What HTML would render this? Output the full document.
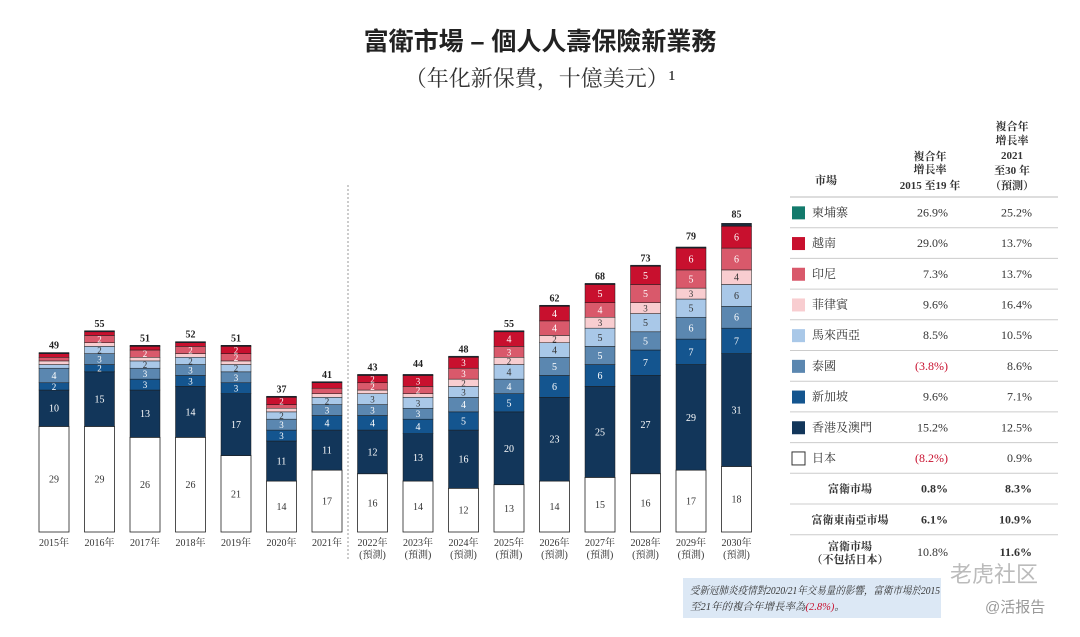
<!DOCTYPE html>
<html><head><meta charset="utf-8"><style>
body{margin:0;background:#fff;width:1080px;height:632px;overflow:hidden;font-family:"Liberation Serif","Noto Serif CJK SC",serif}
</style></head><body>
<svg id="c" width="1080" height="632" viewBox="0 0 1080 632">
<text x="540" y="50" text-anchor="middle" font-size="25" font-weight="bold" fill="#222" font-family="'Liberation Sans','Noto Sans CJK TC',sans-serif">富衛市場 – 個人人壽保險新業務</text>
<text x="540" y="86" text-anchor="middle" font-size="22" fill="#333" font-family="'Liberation Serif','Noto Serif CJK SC',serif">（年化新保費，十億美元）¹</text>
<line x1="348" y1="185" x2="348" y2="560" stroke="#999" stroke-dasharray="2,2"/>
<g id="bars"></g>
<g id="tbl"></g>
<rect x="683" y="578" width="258" height="40" fill="#dce8f5"/>
<text x="690" y="594" font-size="10.5" font-style="italic" fill="#333" textLength="250" lengthAdjust="spacingAndGlyphs">受新冠肺炎疫情對2020/21年交易量的影響，富衛市場於2015</text>
<text x="690" y="610" font-size="10.5" font-style="italic" fill="#333">至21年的複合年增長率為<tspan fill="#c8102e">(2.8%)</tspan>。</text>
<text x="950" y="582" font-size="22" fill="#bbb" font-family="'Liberation Sans','Noto Sans CJK SC',sans-serif">老虎社区</text>
<text x="985" y="612" font-size="15" fill="#999" font-family="'Liberation Sans','Noto Sans CJK SC',sans-serif">@活报告</text>
</svg>
<script>
const years=["2015年","2016年","2017年","2018年","2019年","2020年","2021年","2022年","2023年","2024年","2025年","2026年","2027年","2028年","2029年","2030年"];
const forecast=[0,0,0,0,0,0,0,1,1,1,1,1,1,1,1,1];
const japan=[29,29,26,26,21,14,17,16,14,12,13,14,15,16,17,18];
const hongkong=[10,15,13,14,17,11,11,12,13,16,20,23,25,27,29,31];
const singapore=[2,2,3,3,3,3,4,4,4,5,5,6,6,7,7,7];
const thailand=[4,3,3,3,3,3,3,3,3,4,4,5,5,5,6,6];
const malaysia=[1,2,2,2,2,2,2,3,3,3,4,4,5,5,5,6];
const philippines=[1,1,1,1,1,1,1,1,1,2,2,2,3,3,3,4];
const indonesia=[1,2,2,2,2,1,1.5,2,2,3,3,4,4,5,5,6];
const vietnam=[1,1,1,1,2,2,1.5,2,3,3,4,4,5,5,6,6];
const cambodia=[0.3,0.3,0.3,0.3,0.3,0.3,0.3,0.3,0.3,0.3,0.3,0.3,0.3,0.3,0.3,0.8];
const totals=[49,55,51,52,51,37,41,43,44,48,55,62,68,73,79,85];
const series=[japan,hongkong,singapore,thailand,malaysia,philippines,indonesia,vietnam,cambodia];
const sNames=["japan","hong-kong","singapore","thailand","malaysia","philippines","indonesia","vietnam","cambodia"];
const colors=["#fff","#12365a","#14558f","#5b87b0","#a9c8e8","#f8cdd0","#d9596b","#c8102e","#1a2a3a"];
const txtCol=["#333","#fff","#fff","#fff","#333","#333","#fff","#fff","#fff"];
const NS="http://www.w3.org/2000/svg";
const base=532, k=3.64, x0=54, dx=45.5, bw=30;
const yv=v=>base-v*k, xc=i=>x0+i*dx;
const g=document.getElementById('bars');
function mk(t,a,p){const e=document.createElementNS(NS,t);for(const q in a)e.setAttribute(q,a[q]);(p||g).appendChild(e);return e;}
years.forEach((y,i)=>{
  let cum=0;
  series.forEach((s,j)=>{
    const v=s[i];
    const r=mk('rect',{x:xc(i)-bw/2,y:yv(cum+v),width:bw,height:v*k,fill:colors[j],stroke:j==0?"#222":"#1a1a1a","stroke-width":j==0?0.8:0.5});
    
    
    if(j<8&&v*k>=7){
      const t=mk('text',{x:xc(i),y:yv(cum+v/2)+3.5,"text-anchor":"middle","font-size":v*k>14?10:9,fill:txtCol[j]});
      t.textContent=Math.round(v);
      
      
    }
    cum+=v;
  });
  const t=mk('text',{x:xc(i),y:yv(totals[i])-5,"text-anchor":"middle","font-size":10,"font-weight":"bold",fill:"#222"});
  t.textContent=totals[i];
  
  
  const l=mk('text',{x:xc(i),y:546,"text-anchor":"middle","font-size":10,fill:"#333"});
  l.textContent=y;
  
  
  if(forecast[i]){
    const f=mk('text',{x:xc(i),y:558,"text-anchor":"middle","font-size":10,fill:"#333"});
    f.textContent="(預測)";
    
    
  }
});
const tb=document.getElementById('tbl');
const rowNames=["柬埔寨","越南","印尼","菲律賓","馬來西亞","泰國","新加坡","香港及澳門","日本"];
const rowColors=["#137a6c","#c8102e","#d9596b","#f8cdd0","#a9c8e8","#5b87b0","#14558f","#12365a","#fff"];
const cagr1=["26.9%","29.0%","7.3%","9.6%","8.5%","(3.8%)","9.6%","15.2%","(8.2%)"];
const cagr2=["25.2%","13.7%","13.7%","16.4%","10.5%","8.6%","7.1%","12.5%","0.9%"];
function tt(x,y,s,a,extra){const e=mk('text',Object.assign({x:x,y:y,"text-anchor":a,"font-size":11,fill:"#333"},extra||{}),tb);e.textContent=s;return e;}
let h;
h=tt(826,184,"市場","middle",{"font-weight":"bold"});
[["複合年",160],["增長率",173],["2015 至19 年",189]].forEach(a=>{h=tt(930,a[1],a[0],"middle",{"font-weight":"bold"});});
[["複合年",130],["增長率",144],["2021",159],["至30 年",174],["（預測）",189]].forEach(a=>{h=tt(1012,a[1],a[0],"middle",{"font-weight":"bold"});});
const r0=197, rh=30.7;
mk('line',{x1:790,x2:1058,y1:r0,y2:r0,stroke:"#bbb"},tb);
rowNames.forEach((n,i)=>{
  const cy=r0+rh*i+rh/2;
  const sw=mk('rect',{x:792,y:cy-6,width:13,height:13,fill:rowColors[i],stroke:i==8?"#333":"none"},tb);
  
  let t=tt(812,cy+4,n,"start",{"font-size":12});
  t=tt(948,cy+4,cagr1[i],"end",{"font-size":12,fill:cagr1[i][0]=="("?"#c8102e":"#333"});
  t=tt(1032,cy+4,cagr2[i],"end",{"font-size":12});
  mk('line',{x1:790,x2:1058,y1:r0+rh*(i+1),y2:r0+rh*(i+1),stroke:"#ccc"},tb);
});
const sums=[["富衛市場","0.8%","8.3%"],["富衛東南亞市場","6.1%","10.9%"]];
sums.forEach((s,j)=>{
  const cy=r0+rh*(9+j)+rh/2;
  let t=tt(850,cy+4,s[0],"middle",{"font-weight":"bold"});
  t=tt(948,cy+4,s[1],"end",{"font-weight":"bold","font-size":12});
  t=tt(1032,cy+4,s[2],"end",{"font-weight":"bold","font-size":12});
  mk('line',{x1:790,x2:1058,y1:r0+rh*(10+j),y2:r0+rh*(10+j),stroke:"#ccc"},tb);
});
let cy=r0+rh*11+rh/2;
let t=tt(850,cy,"富衛市場","middle",{"font-weight":"bold"});
t=tt(850,cy+13,"（不包括日本）","middle",{"font-weight":"bold"});
t=tt(948,cy+6,"10.8%","end",{"font-size":12});
t=tt(1032,cy+6,"11.6%","end",{"font-weight":"bold","font-size":12});
</script>
</body></html>
